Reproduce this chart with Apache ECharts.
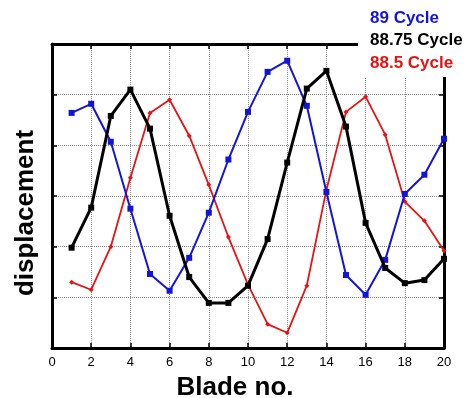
<!DOCTYPE html>
<html>
<head>
<meta charset="utf-8">
<script src="https://cdn.jsdelivr.net/npm/echarts@6/dist/echarts.min.js"></script>
<style>html,body{margin:0;padding:0;background:#fff}#c{width:468px;height:398px}</style>
</head>
<body>
<div id="c"></div>
<script>
var blades = [1,2,3,4,5,6,7,8,9,10,11,12,13,14,15,16,17,18,19,20];
var cycle89 = [4.64,4.82,4.07,2.75,1.46,1.13,1.78,2.67,3.72,4.66,5.45,5.67,4.78,3.08,1.44,1.05,1.74,3.04,3.42,4.13];
var cycle8875 = [1.98,2.77,4.58,5.10,4.33,2.61,1.40,0.89,0.89,1.23,2.15,3.66,5.12,5.47,4.37,2.47,1.58,1.28,1.34,1.76];
var cycle885 = [1.30,1.15,2.00,3.36,4.64,4.90,4.19,3.22,2.19,1.25,0.47,0.30,1.23,3.12,4.66,4.96,4.21,2.89,2.51,1.92];
var seriesNames = ['89 Cycle','88.75 Cycle','88.5 Cycle'];
var xTicks = {min:0, max:20, step:2};

function pairs(vals){ return blades.map(function(b,i){ return [b, vals[i]]; }); }

var chart = echarts.init(document.getElementById('c'));
var font = '"Liberation Sans", Arial, Helvetica, sans-serif';
var tickStyle = {show:true, inside:true, length:5, lineStyle:{color:'#000', width:1.5}};
var lineAx = {show:true, onZero:false, lineStyle:{color:'#000', width:3}};
var grid = {type:'dotted', color:'#8a8a8a', width:1};
chart.setOption({
  animation:false,
  backgroundColor:'#fff',
  grid:{left:52, right:24, top:44, bottom:50, containLabel:false, outerBoundsMode:'none'},
  legend:{
    orient:'vertical', left:360, top:4, z:200,
    itemWidth:0, itemHeight:18, itemGap:4.5, icon:'rect',
    selectedMode:false,
    textStyle:{fontFamily:font, fontWeight:'bold', fontSize:17, lineHeight:18},
    data:[
      {name:seriesNames[0], textStyle:{color:'#1414d8'}},
      {name:seriesNames[1], textStyle:{color:'#000'}},
      {name:seriesNames[2], textStyle:{color:'#e51414'}}
    ]
  },
  graphic:{elements:[{type:'rect', z:100, shape:{x:358, y:0, width:110, height:77}, style:{fill:'#fff'}}]},
  xAxis:[
    {type:'value', min:xTicks.min, max:xTicks.max, interval:xTicks.step, position:'bottom',
     axisLine:lineAx, axisTick:tickStyle,
     axisLabel:{color:'#000', fontSize:13, fontFamily:font, margin:8},
     splitLine:{show:true, lineStyle:grid},
     name:'Blade no.', nameLocation:'middle', nameGap:27,
     nameTextStyle:{color:'#000', fontFamily:font, fontWeight:'bold', fontSize:26, padding:[0,26,0,0]}},
    {type:'value', min:xTicks.min, max:xTicks.max, interval:xTicks.step, position:'top',
     axisLine:lineAx, axisTick:tickStyle, axisLabel:{show:false}, splitLine:{show:false}}
  ],
  yAxis:[
    {type:'value', min:0, max:6, interval:1, position:'left',
     axisLine:lineAx, axisTick:tickStyle, axisLabel:{show:false},
     splitLine:{show:true, lineStyle:grid},
     name:'displacement', nameLocation:'middle', nameGap:13, nameRotate:90,
     nameTextStyle:{color:'#000', fontFamily:font, fontWeight:'bold', fontSize:26, padding:[0,34,0,0]}},
    {type:'value', min:0, max:6, interval:1, position:'right',
     axisLine:lineAx, axisTick:tickStyle, axisLabel:{show:false}, splitLine:{show:false}}
  ],
  series:[
    {name:seriesNames[0], type:'line', data:pairs(cycle89), color:'#1414d8',
     lineStyle:{width:2}, symbol:'rect', symbolSize:6, itemStyle:{color:'#1414d8'}, z:3},
    {name:seriesNames[1], type:'line', data:pairs(cycle8875), color:'#000',
     lineStyle:{width:3}, symbol:'rect', symbolSize:6, itemStyle:{color:'#000'}, z:4},
    {name:seriesNames[2], type:'line', data:pairs(cycle885), color:'#e51414',
     lineStyle:{width:1.8}, symbol:'diamond', symbolSize:5, itemStyle:{color:'#e51414'}, z:2}
  ]
});
</script>
</body>
</html>
